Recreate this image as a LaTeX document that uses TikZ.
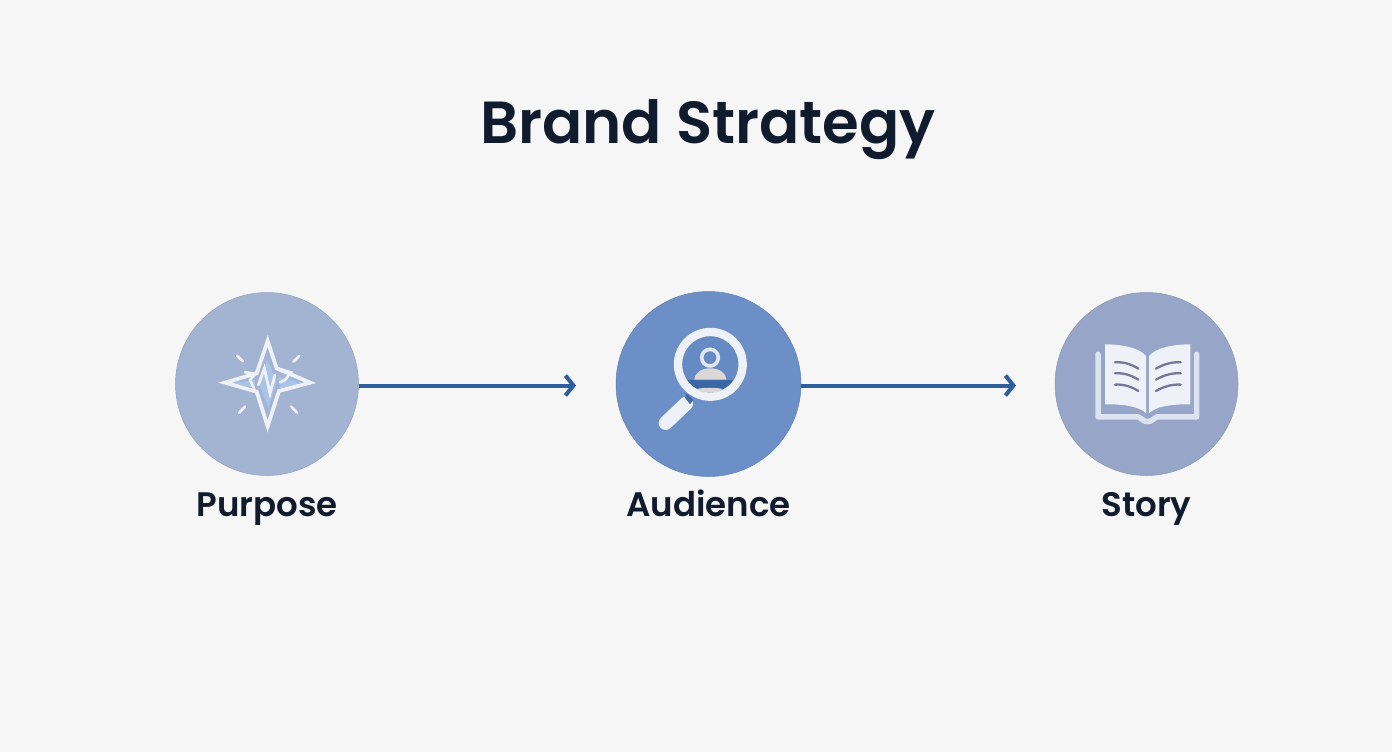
\documentclass[tikz,border=0pt]{standalone}
\usepackage{fontspec}
\setmainfont{Poppins}
\newfontfamily\titlefont{Poppins SemiBold}
\usetikzlibrary{arrows.meta}
\definecolor{bgc}{HTML}{F6F6F7}
\definecolor{ink}{HTML}{101B2D}
\definecolor{cA}{HTML}{A3B3D2}
\definecolor{cB}{HTML}{6C8FC7}
\definecolor{cC}{HTML}{97A6C8}
\definecolor{arr}{HTML}{2E5E9E}
\definecolor{wht}{HTML}{EEF2F8}
\definecolor{lbl}{HTML}{A9C4E8}
\definecolor{bline}{HTML}{73789A}
\definecolor{skin}{HTML}{DDD8D8}
\tikzset{
  x=1pt,y=-1pt,
  disc/.style={circle,minimum size=183pt,inner sep=0pt,draw=#1!90!black,line width=0.5pt,fill=#1},
  lab/.style={font=\titlefont\fontsize{34}{40}\selectfont,text=ink,anchor=base,inner sep=0pt},
  flow/.style={draw=arr,line width=4pt,-{Straight Barb[length=8pt,width=20pt,line width=4pt]}},
  icon/.style={x=0.3333pt,y=-0.3333pt},
  iline/.style={draw=wht,line width=2.6pt,line join=miter,line cap=round},
}
\begin{document}
\begin{tikzpicture}
\useasboundingbox (0,0) rectangle (1392,752);
\fill[bgc] (0,0) rectangle (1392,752);
\node[font=\titlefont\fontsize{59.4}{70}\selectfont,text=ink,anchor=base,inner sep=0pt] (title) at (708,143) {Brand Strategy};
\node[disc=cA] (purpose) at (267,384) {};
\node[disc=cB,minimum size=185pt] (audience) at (708.5,384) {};
\node[disc=cC] (story) at (1146.5,384) {};
\node[lab] (lpurpose) at (267,516) {Purpose};
\node[lab] (laudience) at (708.5,516) {Audience};
\node[lab] (lstory) at (1146.5,516) {Story};
\coordinate (e1) at (576,385.5);
\coordinate (e2) at (1016,385.5);
\draw[flow] (purpose.east |- e1) -- (e1);
\draw[flow] (audience.east |- e2) -- (e2);
% star
\begin{scope}[shift={(165,285)},icon]
\fill[lbl] (308,225) -- (335,290) -- (310,370) -- (280,290) -- cycle;
\fill[lbl] (205,293) -- (270,285) -- (270,310) -- cycle;
\fill[lbl] (410,293) -- (340,275) -- (345,310) -- cycle;
\draw[draw=wht,line width=3.8pt,line join=miter]
  (308,168) -- (335,250) -- (436,293) -- (342,318) -- (308,424) -- (275,320) -- (180,293) -- (275,265) -- cycle;
\draw[iline,line width=2.6pt] (240,262) -- (272,266) -- (255,285) -- (268,312);
\draw[iline,line width=2.6pt] (335,250) -- (378,262) -- (360,285) -- (345,292);
\draw[iline,line width=2.8pt] (280,300) -- (298,250) -- (315,325) -- (330,270);
\draw[iline] (216,212) -- (234,229);
\draw[iline] (403,213) -- (385,230);
\draw[iline] (240,365) -- (222,384);
\draw[iline] (379,365) -- (396,383);
\end{scope}
% magnifier
\begin{scope}[shift={(605,285)},icon]
\draw[draw=wht,line width=14pt,line cap=round] (182,414) -- (243,356);
\fill[arr!70!cB] (245,325) -- (265,345) -- (255,358) -- (240,338) -- cycle;
\fill[cB!90!arr] (316,238) circle[radius=85];
\begin{scope}
\clip (316,238) circle[radius=85];
\fill[arr!80!cB] (240,285) rectangle (400,325);
\end{scope}
\draw[draw=wht,line width=8.4pt] (316,238) circle[radius=97];
\draw[draw=wht!80!lbl,line width=3.6pt] (315,218) circle[radius=25];
\fill[skin] (268,284) .. controls (270,262) and (290,250) .. (316,250) .. controls (342,250) and (362,262) .. (364,284) -- cycle;
\fill[skin] (276,312) .. controls (295,307) and (335,307) .. (352,312) -- (340,322) -- (290,322) -- cycle;
\end{scope}
% book
\begin{scope}[shift={(1045,285)},icon]
\draw[draw=wht!80!cC,line width=5.5pt,line join=round,line cap=round]
  (159,208) -- (159,396) -- (280,396) .. controls (292,398) and (292,410) .. (308,410) .. controls (324,410) and (324,398) .. (336,396) -- (455,396) -- (455,208);
\fill[wht] (180,178) .. controls (235,178) and (285,190) .. (303,213) -- (303,385) .. controls (285,365) and (235,357) .. (180,358) -- cycle;
\fill[wht] (436,178) .. controls (380,178) and (330,190) .. (312,213) -- (312,385) .. controls (330,365) and (380,357) .. (436,358) -- cycle;
\foreach \yy in {0,33,67}{
\draw[bline,line width=2.3pt,line cap=round] (210,232+\yy) .. controls (235,230+\yy) and (260,238+\yy) .. (280,251+\yy);
\draw[bline,line width=2.3pt,line cap=round] (407,232+\yy) .. controls (382,230+\yy) and (355,238+\yy) .. (333,251+\yy);
}
\end{scope}
\end{tikzpicture}
\end{document}
